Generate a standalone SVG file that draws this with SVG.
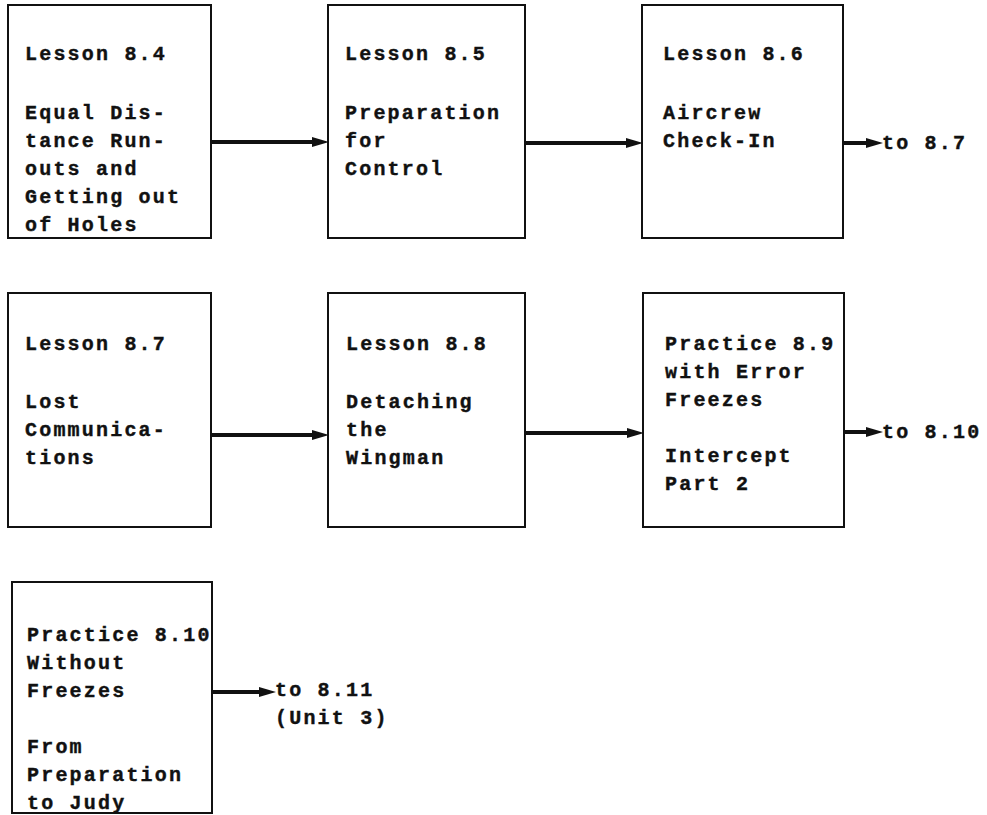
<svg xmlns="http://www.w3.org/2000/svg" width="987" height="815" viewBox="0 0 987 815">
<style>
.box{fill:none;stroke:#111;stroke-width:2}
.t{font-family:"Liberation Mono","DejaVu Sans Mono",monospace;font-weight:bold;font-size:20px;letter-spacing:2.2px;fill:#111;stroke:#111;stroke-width:0.4}
.c{stroke:#111;stroke-width:4;fill:none}
</style>
<defs>
<marker id="ah" markerUnits="userSpaceOnUse" markerWidth="18" markerHeight="12" viewBox="0 0 18 12" refX="8" refY="6" orient="auto">
<path d="M0,1 L17,6 L0,11 Z" fill="#111"/>
</marker>
</defs>
<rect width="987" height="815" fill="#fff"/>
<g id="n84">
<rect class="box" x="8" y="5" width="203" height="233"/>
<text class="t" x="25" y="60">Lesson 8.4</text>
<text class="t" x="25" y="119">Equal Dis-</text>
<text class="t" x="25" y="147">tance Run-</text>
<text class="t" x="25" y="175">outs and</text>
<text class="t" x="25" y="203">Getting out</text>
<text class="t" x="25" y="231">of Holes</text>
</g>
<g id="n85">
<rect class="box" x="328" y="5" width="197" height="233"/>
<text class="t" x="345" y="60">Lesson 8.5</text>
<text class="t" x="345" y="119">Preparation</text>
<text class="t" x="345" y="147">for</text>
<text class="t" x="345" y="175">Control</text>
</g>
<g id="n86">
<rect class="box" x="642" y="5" width="201" height="233"/>
<text class="t" x="663" y="60">Lesson 8.6</text>
<text class="t" x="663" y="119">Aircrew</text>
<text class="t" x="663" y="147">Check-In</text>
</g>
<g id="n87">
<rect class="box" x="8" y="293" width="203" height="234"/>
<text class="t" x="25" y="350">Lesson 8.7</text>
<text class="t" x="25" y="408">Lost</text>
<text class="t" x="25" y="436">Communica-</text>
<text class="t" x="25" y="464">tions</text>
</g>
<g id="n88">
<rect class="box" x="328" y="293" width="197" height="234"/>
<text class="t" x="346" y="350">Lesson 8.8</text>
<text class="t" x="346" y="408">Detaching</text>
<text class="t" x="346" y="436">the</text>
<text class="t" x="346" y="464">Wingman</text>
</g>
<g id="n89">
<rect class="box" x="643" y="293" width="201" height="234"/>
<text class="t" x="665" y="350">Practice 8.9</text>
<text class="t" x="665" y="378">with Error</text>
<text class="t" x="665" y="406">Freezes</text>
<text class="t" x="665" y="462">Intercept</text>
<text class="t" x="665" y="490">Part 2</text>
</g>
<g id="n810">
<rect class="box" x="12" y="582" width="200" height="231"/>
<text class="t" x="27" y="641">Practice 8.10</text>
<text class="t" x="27" y="669">Without</text>
<text class="t" x="27" y="697">Freezes</text>
<text class="t" x="27" y="753">From</text>
<text class="t" x="27" y="781">Preparation</text>
<text class="t" x="27" y="809">to Judy</text>
</g>
<g id="labels">
<text class="t" x="882" y="149">to 8.7</text>
<text class="t" x="882" y="438">to 8.10</text>
<text class="t" x="275" y="696">to 8.11</text>
<text class="t" x="275" y="724">(Unit 3)</text>
</g>
<g id="connectors">
<line class="c" x1="211" y1="142" x2="320" y2="142" marker-end="url(#ah)"/>
<line class="c" x1="525" y1="143" x2="634" y2="143" marker-end="url(#ah)"/>
<line class="c" x1="843" y1="143" x2="874" y2="143" marker-end="url(#ah)"/>
<line class="c" x1="211" y1="435" x2="320" y2="435" marker-end="url(#ah)"/>
<line class="c" x1="525" y1="433" x2="635" y2="433" marker-end="url(#ah)"/>
<line class="c" x1="844" y1="432" x2="874" y2="432" marker-end="url(#ah)"/>
<line class="c" x1="212" y1="692" x2="267" y2="692" marker-end="url(#ah)"/>
</g>
</svg>
